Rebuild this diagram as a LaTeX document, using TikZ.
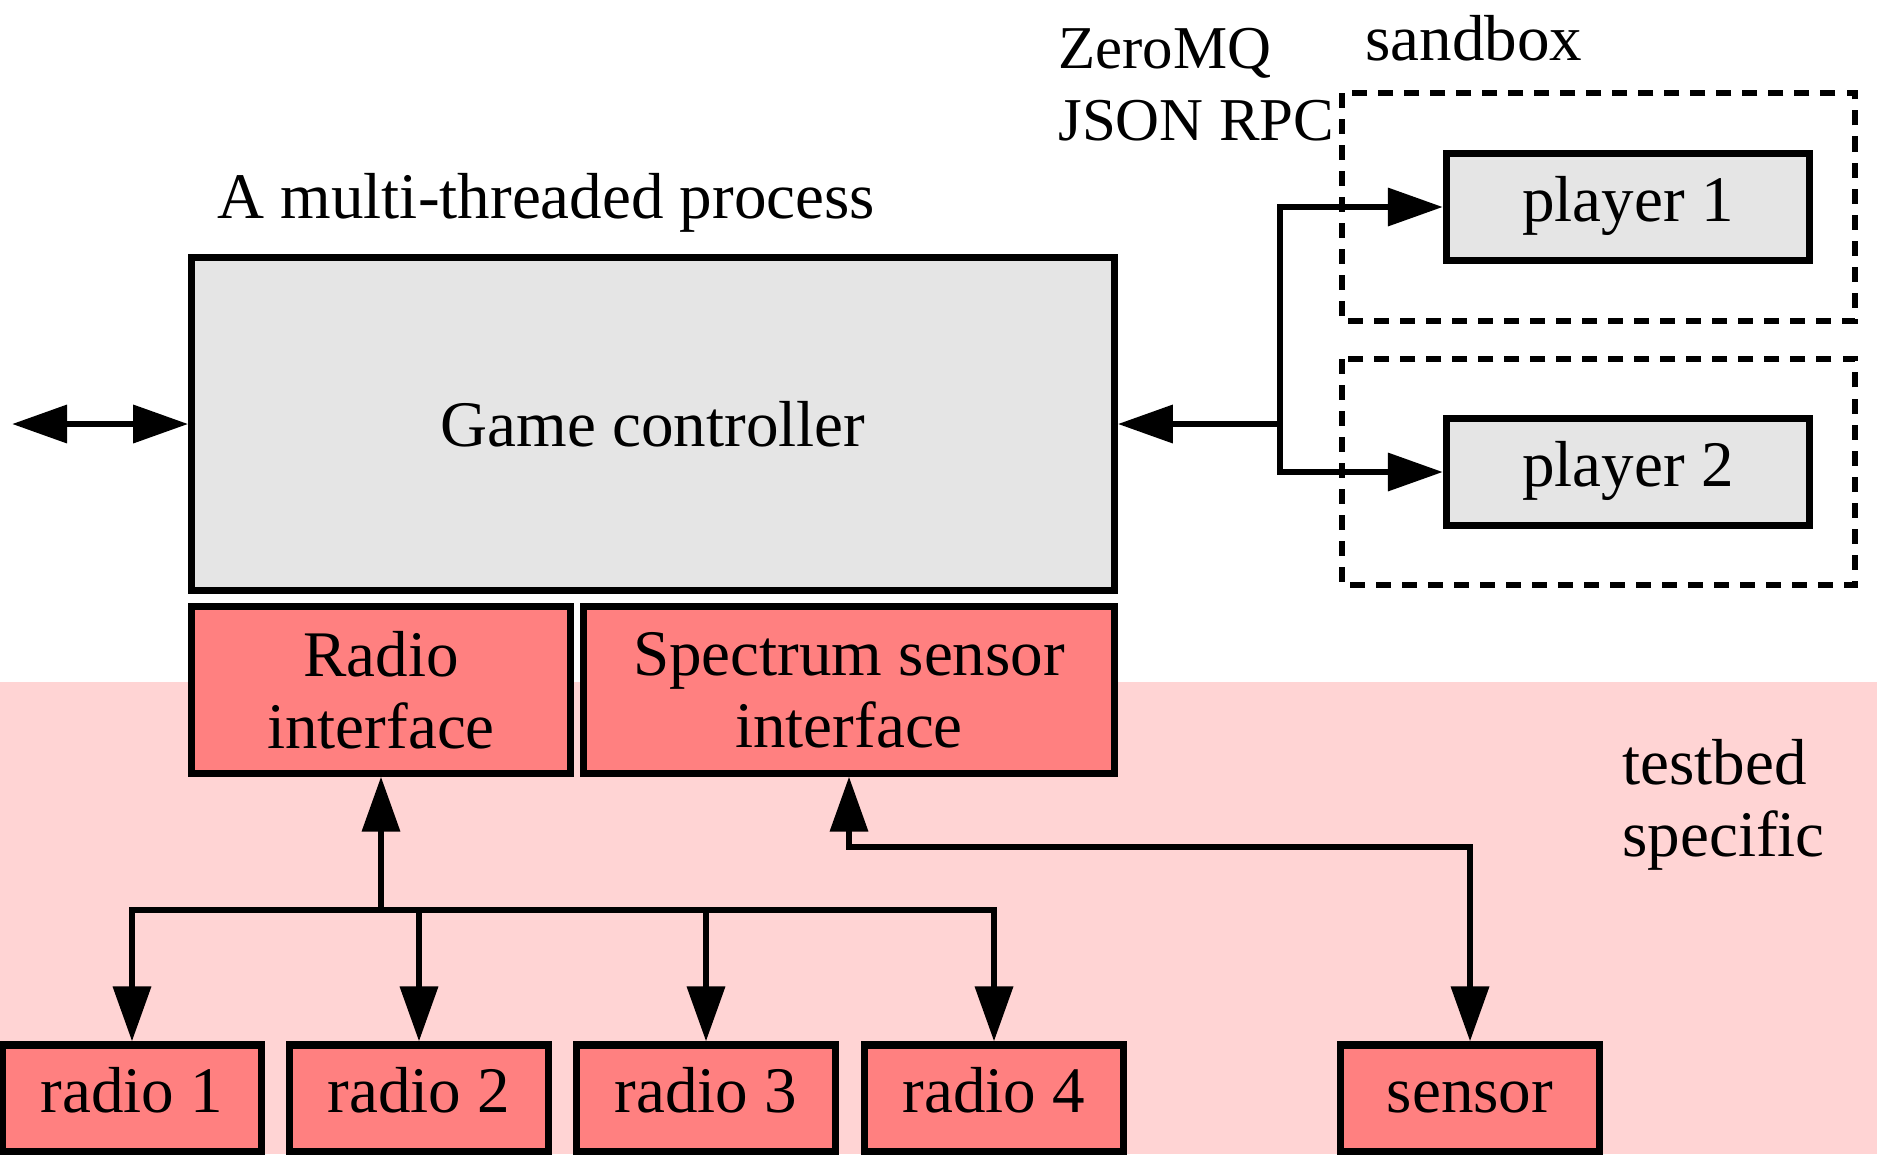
\documentclass[tikz,border=0pt]{standalone}
\usepackage{fontspec}
\setmainfont{Liberation Serif}
\usetikzlibrary{arrows.meta}
\begin{document}
\begin{tikzpicture}[x=0.01cm,y=-0.01cm,
		font=\fontsize{18.5}{20.5}\selectfont,
		>={Triangle[length=0.55cm,width=0.37cm]},
		box/.style={draw=black,line width=2pt,inner sep=0pt},
		greybox/.style={box,fill=black!10},
		pinkbox/.style={box,fill=red!50},
		unitbox/.style={minimum width=2.59cm,minimum height=1.06cm,text height=0.85em,text depth=0.05em},
		link/.style={line width=1.9pt,->},
		sandbox/.style={draw=black,line width=1.9pt,dash pattern=on 0.15cm off 0.11cm}]
		\clip (0,0) rectangle (1877,1154);
		% testbed specific area
		\fill[red!17] (0,682) rectangle (1877,1154);
		\node[anchor=base west] (tbtext) at (1610,784) {testbed};
		\node[anchor=base west] (tbtext2) at (1610,856) {specific};
		% process
		\node[greybox,minimum width=9.22cm,minimum height=3.33cm] (gc) at (653,424) {Game controller};
		\node[anchor=base west] (proc) at (205,218) {A multi-threaded process};
		\node[pinkbox,minimum width=3.78cm,minimum height=1.66cm,align=center] (radioif) at (381,690) {Radio\\interface};
		\node[pinkbox,minimum width=5.30cm,minimum height=1.66cm,align=center] (specif) at (849,690) {Spectrum sensor\\interface};
		% players
		\draw[sandbox] (1342,93) rectangle (1855,321);
		\draw[sandbox] (1342,359) rectangle (1855,585);
		\node[anchor=base west] (sbtext) at (1353,60) {sandbox};
		\node[anchor=base west,font=\fontsize{17.3}{20}\selectfont] (zmq) at (1046,68) {ZeroMQ};
		\node[anchor=base west,font=\fontsize{17.3}{20}\selectfont] (rpc) at (1046,140) {JSON RPC};
		\node[greybox,unitbox,minimum width=3.63cm] (p1) at (1628,207) {player 1};
		\node[greybox,unitbox,minimum width=3.63cm] (p2) at (1628,472) {player 2};
		\coordinate (ext) at (12,424);
		\coordinate (hub) at (1280,424);
		\draw[link,<->] (ext) -- (gc.west);
		\draw[link] (hub) -- (gc.east);
		\draw[link] (hub) |- (p1.west);
		\draw[link] (hub) |- (p2.west);
		% radios
		\coordinate (bus) at (381,910);
		\draw[link] (bus) -- (radioif.south);
		\foreach \i/\x in {1/132,2/419,3/706,4/994} {
			\node[pinkbox,unitbox] (radio\i) at (\x,1098) {radio \i};
			\draw[link] (bus) -| (radio\i.north);
		}
		% sensor
		\node[pinkbox,unitbox] (sensor) at (1470,1098) {sensor};
		\coordinate (bend) at (1470,847);
		\draw[link,<->] (specif.south) |- (bend) -- (sensor.north);
	\end{tikzpicture}
\end{document}
